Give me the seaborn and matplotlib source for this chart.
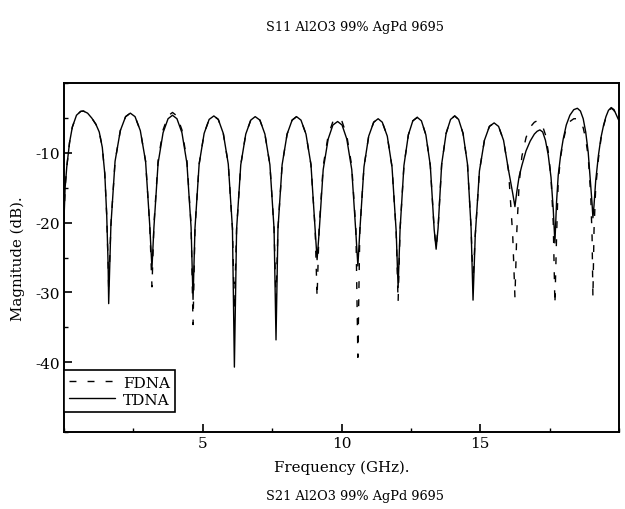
import seaborn as sns
import pandas as pd
from matplotlib import pyplot as plt
from matplotlib.ticker import MultipleLocator, FixedLocator

# frequency grid (GHz)
freq = [0, 0.04, 0.1, 0.2, 0.3, 0.45, 0.6, 0.7, 0.85, 1.0, 1.15, 1.27, 1.38, 1.47, 1.54, 1.59,
        1.61,
        1.69, 1.84, 2.03, 2.22, 2.39, 2.56, 2.75, 2.94, 3.09,
        3.17,
        3.24, 3.39, 3.57, 3.75, 3.91, 4.07, 4.25, 4.43, 4.58,
        4.65,
        4.72, 4.87, 5.05, 5.23, 5.40, 5.56, 5.74, 5.92, 6.07,
        6.14,
        6.22, 6.37, 6.55, 6.73, 6.89, 7.06, 7.24, 7.42, 7.57,
        7.64,
        7.71, 7.86, 8.04, 8.22, 8.38, 8.54, 8.72, 8.90, 9.05,
        9.12,
        9.19, 9.34, 9.52, 9.69, 9.86, 10.02, 10.19, 10.37, 10.52,
        10.59,
        10.66, 10.81, 10.98, 11.16, 11.32, 11.47, 11.65, 11.82, 11.97,
        12.04,
        12.11, 12.25, 12.41, 12.57, 12.73, 12.88, 13.04, 13.20, 13.34,
        13.41,
        13.48, 13.61, 13.77, 13.93, 14.08, 14.22, 14.38, 14.54, 14.67,
        14.74,
        14.82, 14.97, 15.15, 15.33, 15.50, 15.66, 15.84, 16.02, 16.17,
        16.25,
        16.32, 16.4, 16.5, 16.65, 16.8, 16.95, 17.05, 17.15, 17.25, 17.35, 17.45, 17.55, 17.63,
        17.69,
        17.75, 17.81, 17.9, 17.99, 18.1, 18.23, 18.37, 18.5, 18.61, 18.71, 18.8, 18.89, 18.98, 19.03,
        19.06,
        19.1, 19.16, 19.26, 19.35, 19.44, 19.53, 19.62, 19.72, 19.82, 19.91, 20.0]

# TDNA magnitude (dB), solid line
tdna = [-19.5, -15, -12, -8.5, -6.3, -4.6, -4.05, -4.0, -4.3, -5.0, -5.9, -7.0, -9.2, -13, -19, -26,
        -31.6,
        -20.4, -11.2, -6.8, -4.8, -4.3, -4.8, -6.8, -11.2, -20.4,
        -26.5,
        -20.7, -11.5, -7.1, -5.1, -4.6, -5.1, -7.1, -11.5, -20.7,
        -31.0,
        -20.8, -11.6, -7.2, -5.2, -4.7, -5.2, -7.2, -11.6, -20.8,
        -40.7,
        -20.9, -11.7, -7.3, -5.3, -4.8, -5.3, -7.3, -11.7, -20.9,
        -36.8,
        -20.9, -11.7, -7.3, -5.3, -4.8, -5.3, -7.3, -11.7, -20.9,
        -25.3,
        -21.6, -12.4, -8.0, -6.0, -5.5, -6.0, -8.0, -12.4, -21.6,
        -26.2,
        -21.2, -12.0, -7.6, -5.6, -5.1, -5.6, -7.6, -12.0, -21.2,
        -29.3,
        -21.0, -11.8, -7.4, -5.4, -4.9, -5.4, -7.4, -11.8, -21.0,
        -23.8,
        -20.8, -11.6, -7.2, -5.2, -4.7, -5.2, -7.2, -11.6, -20.8,
        -31.1,
        -21.8, -12.6, -8.2, -6.2, -5.7, -6.2, -8.2, -12.5, -15.8,
        -17.7,
        -15.5, -13.4, -11.8, -9.7, -8.3, -7.3, -6.9, -6.7, -7.0, -8.2, -10.3, -13.5, -18.0,
        -22.9,
        -17, -13.2, -10.2, -8.0, -6.0, -4.6, -3.8, -3.6, -4.0, -5.1, -7.0, -9.9, -14.6, -17.3,
        -19.3,
        -17.5, -14, -10.3, -7.8, -6.1, -4.8, -3.9, -3.5, -3.8, -4.6, -5.4]

# FDNA magnitude (dB), dashed line
fdna = [-19.5, -15, -12, -8.5, -6.3, -4.6, -4.05, -4.0, -4.3, -5.0, -5.9, -7.0, -9.2, -13, -19, -26,
        -29.5,
        -20.4, -11.2, -6.8, -4.8, -4.3, -4.8, -6.8, -11.2, -20.4,
        -29.2,
        -20.3, -11.1, -6.7, -4.7, -4.2, -4.7, -6.7, -11.1, -20.3,
        -34.6,
        -20.8, -11.6, -7.2, -5.2, -4.7, -5.2, -7.2, -11.6, -20.8,
        -32.5,
        -20.9, -11.7, -7.3, -5.3, -4.8, -5.3, -7.3, -11.7, -20.9,
        -31.0,
        -20.9, -11.7, -7.3, -5.3, -4.8, -5.3, -7.3, -11.7, -20.9,
        -30.7,
        -21.1, -11.9, -7.5, -5.5, -5.0, -5.5, -7.5, -11.9, -21.1,
        -39.3,
        -21.2, -12.0, -7.6, -5.6, -5.1, -5.6, -7.6, -12.0, -21.2,
        -31.4,
        -21.0, -11.8, -7.4, -5.4, -4.9, -5.4, -7.4, -11.8, -21.0,
        -23.5,
        -20.8, -11.6, -7.2, -5.2, -4.7, -5.2, -7.2, -11.6, -20.8,
        -28.5,
        -21.8, -12.6, -8.2, -6.2, -5.7, -6.2, -8.2, -12.6, -21.8,
        -30.7,
        -21, -14.5, -10.5, -7.8, -6.3, -5.6, -5.4, -5.6, -6.2, -7.4, -9.8, -13.5, -20,
        -31.7,
        -22, -14, -10.5, -8.3, -6.4, -5.5, -5.1, -5.1, -5.5, -6.4, -8.0, -10.5, -16, -22,
        -30.7,
        -21, -15, -10.8, -8.0, -6.2, -4.9, -4.0, -3.6, -3.9, -4.7, -5.5]

series_names = ['FDNA', 'TDNA']
x_ticks = [5, 10, 15]
y_ticks = [-40, -30, -20, -10]

data = pd.concat([
    pd.DataFrame({'freq': freq, 'mag': fdna, 'series': 'FDNA'}),
    pd.DataFrame({'freq': freq, 'mag': tdna, 'series': 'TDNA'}),
])

sns.set_style('ticks')
plt.rcParams['font.family'] = ['DejaVu Serif']
plt.rcParams['axes.unicode_minus'] = False
plt.rcParams['text.color'] = 'black'
plt.rcParams['axes.labelcolor'] = 'black'

fig = plt.figure(figsize=(6.25, 5.1), dpi=100)
ax = fig.add_axes([0.1024, 0.151, 0.888, 0.684])

sns.lineplot(data=data, x='freq', y='mag', style='series', style_order=series_names,
             dashes={'FDNA': (5, 8), 'TDNA': ''}, color='black', linewidth=1.0,
             estimator=None, ax=ax)

ax.set_xlim(0, 20)
ax.set_ylim(-50, 0)
ax.xaxis.set_major_locator(FixedLocator(x_ticks))
ax.yaxis.set_major_locator(FixedLocator(y_ticks))
ax.xaxis.set_minor_locator(MultipleLocator(2.5))
ax.yaxis.set_minor_locator(MultipleLocator(5))
ax.tick_params(which='both', direction='in', colors='black', labelsize=11, pad=3)
ax.tick_params(which='major', length=6, width=1.2)
ax.tick_params(which='minor', length=3, width=1.0)
for s in ax.spines.values():
    s.set_linewidth(1.4)
    s.set_color('black')

ax.set_xlabel('Frequency (GHz).', fontsize=10.8, labelpad=7)
ax.set_ylabel('Magnitude (dB).', fontsize=10.8, labelpad=7)

handles, labels = ax.get_legend_handles_labels()
leg = ax.legend(handles, labels, loc='lower left', bbox_to_anchor=(0, 0.057),
                borderaxespad=0, fancybox=False, edgecolor='black', framealpha=1,
                fontsize=11, handlelength=3.0, labelspacing=0.2, borderpad=0.35,
                handletextpad=0.5)
leg.get_frame().set_linewidth(1.2)

fig.text(0.568, 0.947, 'S11 Al2O3 99% AgPd 9695', ha='center', va='center', fontsize=9.3)
fig.text(0.568, 0.026, 'S21 Al2O3 99% AgPd 9695', ha='center', va='center', fontsize=9.3)

fig.savefig('out.png', dpi=100)
